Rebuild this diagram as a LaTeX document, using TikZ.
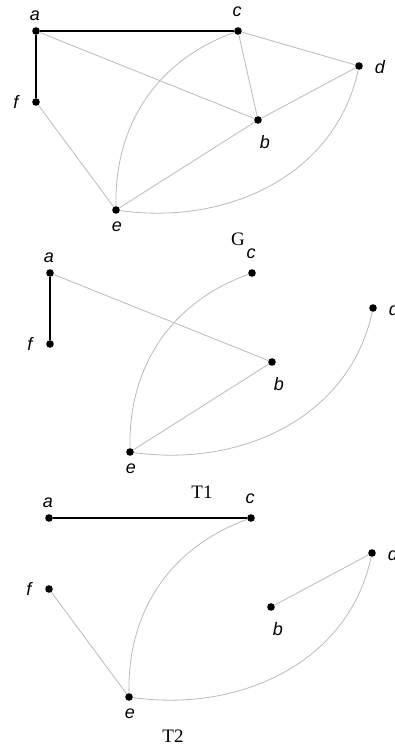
\documentclass[tikz,border=0pt]{standalone}
\usepackage{fontspec}
\setmainfont{Liberation Serif}
\newfontfamily\lblfont{Liberation Sans}
\tikzset{
  vtx/.style={circle, fill=black, inner sep=0pt, minimum size=7.6pt},
  lbl/.style={font=\lblfont\itshape\fontsize{18}{18}\selectfont, inner sep=0pt},
  ttl/.style={font=\fontsize{19}{19}\selectfont, inner sep=0pt},
  heavy/.style={line width=1.8pt, black},
  light/.style={line width=0.8pt, black!27},
}
\begin{document}
\begin{tikzpicture}[x=1pt,y=1pt]
\useasboundingbox (0,0) rectangle (395,-747);
\clip (0,0) rectangle (395,-747);
% ---------- G ----------
\begin{scope}
\node[vtx] (ga) at (36,-31) {};
\node[vtx] (gc) at (238,-31) {};
\node[vtx] (gd) at (359,-66) {};
\node[vtx] (gf) at (36,-102) {};
\node[vtx] (gb) at (258,-120) {};
\node[vtx] (ge) at (116,-210) {};
\node[lbl] (gla) at (35,-16) {a};
\node[lbl] (glc) at (237,-12) {c};
\node[lbl] (gld) at (380,-67) {d};
\node[lbl] (glf) at (16,-102) {f};
\node[lbl] (glb) at (265,-142) {b};
\node[lbl] (gle) at (117,-227) {e};
\draw[heavy] (ga) -- (gc);
\draw[heavy] (ga) -- (gf);
\draw[light] (ga) -- (gb);
\draw[light] (gc) -- (gb);
\draw[light] (gc) -- (gd);
\draw[light] (gd) -- (gb);
\draw[light] (gb) -- (ge);
\draw[light] (gf) -- (ge);
\draw[light] (ge) to[out=91,in=200] (gc);
\draw[light] (ge) to[out=-8,in=258] (gd);
\end{scope}
\node[ttl] (tg) at (238,-239) {G};
% ---------- T1 ----------
\begin{scope}[shift={(14,-242)}]
\node[vtx] (ha) at (36,-31) {};
\node[vtx] (hc) at (238,-31) {};
\node[vtx] (hd) at (359,-66) {};
\node[vtx] (hf) at (36,-102) {};
\node[vtx] (hb) at (258,-120) {};
\node[vtx] (he) at (116,-210) {};
\node[lbl] (hla) at (35,-16) {a};
\node[lbl] (hlc) at (237,-12) {c};
\node[lbl] (hld) at (380,-67) {d};
\node[lbl] (hlf) at (16,-102) {f};
\node[lbl] (hlb) at (265,-142) {b};
\node[lbl] (hle) at (117,-227) {e};
\draw[heavy] (ha) -- (hf);
\draw[light] (ha) -- (hb);
\draw[light] (hb) -- (he);
\draw[light] (he) to[out=91,in=200] (hc);
\draw[light] (he) to[out=-8,in=258] (hd);
\end{scope}
\node[ttl] (t1) at (202,-492) {T1};
% ---------- T2 ----------
\begin{scope}[shift={(13,-487)}]
\node[vtx] (ka) at (36,-31) {};
\node[vtx] (kc) at (238,-31) {};
\node[vtx] (kd) at (359,-66) {};
\node[vtx] (kf) at (36,-102) {};
\node[vtx] (kb) at (258,-120) {};
\node[vtx] (ke) at (116,-210) {};
\node[lbl] (kla) at (35,-16) {a};
\node[lbl] (klc) at (237,-12) {c};
\node[lbl] (kld) at (380,-67) {d};
\node[lbl] (klf) at (16,-102) {f};
\node[lbl] (klb) at (265,-142) {b};
\node[lbl] (kle) at (117,-227) {e};
\draw[heavy] (ka) -- (kc);
\draw[light] (kf) -- (ke);
\draw[light] (kb) -- (kd);
\draw[light] (ke) to[out=91,in=200] (kc);
\draw[light] (ke) to[out=-8,in=258] (kd);
\end{scope}
\node[ttl] (t2) at (173,-736) {T2};
\end{tikzpicture}
\end{document}
